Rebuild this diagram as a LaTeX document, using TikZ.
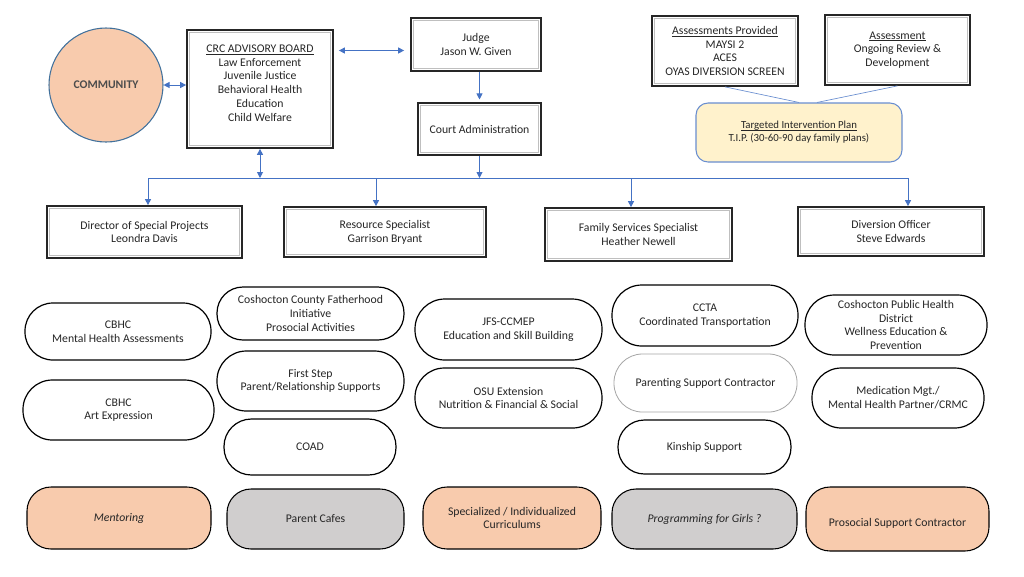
\documentclass[tikz,border=0pt]{standalone}
\usepackage{fontspec}
\setmainfont{Carlito}
\usetikzlibrary{arrows.meta,calc}
\definecolor{peach}{HTML}{F8CBAD}
\definecolor{lgray}{HTML}{D0CECE}
\definecolor{tipfill}{HTML}{FFF2CC}
\definecolor{arrblue}{HTML}{4472C4}
\definecolor{commedge}{HTML}{41719C}
\definecolor{txt}{HTML}{262626}
\newcommand\myfs{\fontsize{8.8}{10.3}\selectfont}
\newcommand\mysmall{\fontsize{8.1}{9.8}\selectfont}
\newcommand\myul[1]{\setbox0\hbox{#1}\rlap{\rule[-1.3pt]{\wd0}{0.45pt}}\box0}
\newcommand\bx[7]{\node[#6, minimum width={(#4-#2)*0.75pt}, minimum height={(#5-#3)*0.75pt}] (#1) at ({(#2+#4)/2},{(#3+#5)/2}) {#7};}
\newcommand\fbx[6]{\bx{#1}{#2}{#3}{#4}{#5}{frame}{#6}\draw[innerframe] ([shift={(3,3)}]#1.north west) rectangle ([shift={(-3,-3)}]#1.south east);}
\newcommand\pl[7][]{\bx{#2}{#3}{#4}{#5}{#6}{pill,rounded corners={(#6-#4)*0.49*0.75pt},#1}{#7}}
\tikzset{
  frame/.style={draw=black!85, line width=1.3pt, fill=white, align=center, font=\myfs, text=txt, inner sep=0pt},
  innerframe/.style={draw=gray!50, line width=0.9pt},
  pill/.style={draw=black, line width=0.9pt, fill=white, align=center, font=\myfs, text=txt, inner sep=0pt},
  rbox/.style={draw=black, line width=0.8pt, align=center, font=\myfs, text=txt, inner sep=0pt, rounded corners=18pt},
  tipbox/.style={draw=arrblue!80, line width=0.8pt, fill=tipfill, align=center, font=\mysmall, text=txt, inner sep=0pt, rounded corners=9pt},
  conn/.style={draw=arrblue, line width=0.7pt},
  arr/.style={conn, -{Triangle[length=4.5pt,width=4.5pt]}},
  darr/.style={conn, {Triangle[length=4.5pt,width=4.5pt]}-{Triangle[length=4.5pt,width=4.5pt]}},
  tline/.style={draw=arrblue!80, line width=0.5pt}
}
\begin{document}
\begin{tikzpicture}[x=0.75pt,y=-0.75pt]
\fill[white] (0,0) rectangle (1024,576);
\useasboundingbox (0,0) rectangle (1024,576);

\node[circle, draw=commedge, line width=0.8pt, fill=peach, minimum size={114*0.75pt}, font=\myfs\bfseries, text=black!70] (comm) at (106,85) {COMMUNITY};

\fbx{crc}{187}{30}{333}{148}{\myul{CRC ADVISORY BOARD}\\Law Enforcement\\Juvenile Justice\\Behavioral Health\\Education\\Child Welfare\rule[-9pt]{0pt}{0pt}}
\fbx{judge}{411}{18}{541}{71}{Judge\\Jason W. Given}
\fbx{court}{418}{103}{541}{155}{Court Administration}
\fbx{ap}{652}{16}{798}{86}{\myul{Assessments Provided}\\MAYSI 2\\ACES\\OYAS DIVERSION SCREEN}
\fbx{as}{825}{15}{970}{85}{\myul{Assessment}\\Ongoing Review \&\\Development}
\bx{tip}{696}{103}{902}{162}{tipbox}{\myul{Targeted Intervention Plan}\\T.I.P. (30-60-90 day family plans)}

\fbx{dir}{47}{206}{242}{258}{Director of Special Projects\\Leondra Davis}
\fbx{res}{284}{207}{486}{257}{Resource Specialist\\Garrison Bryant}
\fbx{fam}{545}{208}{732}{261}{Family Services Specialist\\Heather Newell}
\fbx{div}{798}{207}{984}{256}{Diversion Officer\\Steve Edwards}

\pl{cbhc1}{25}{303}{211}{360}{CBHC\\Mental Health Assessments}
\pl{cbhc2}{23}{380}{214}{440}{CBHC\\Art Expression}
\pl{fath}{217}{287}{404}{340}{Coshocton County Fatherhood\\Initiative\\Prosocial Activities}
\pl{first}{217}{351}{404}{411}{First Step\\Parent/Relationship Supports}
\pl{coad}{224}{419}{396}{475}{COAD}
\pl{jfs}{415}{299}{602}{360}{JFS-CCMEP\\Education and Skill Building}
\pl{osu}{415}{368}{602}{428}{OSU Extension\\Nutrition \& Financial \& Social}
\pl{ccta}{612}{285}{798}{346}{CCTA\\Coordinated Transportation}
\pl[draw=gray!70, line width=0.6pt]{psc}{614}{354}{797}{412}{Parenting Support Contractor}
\pl{kin}{618}{420}{791}{474}{Kinship Support}
\pl{cph}{805}{295}{987}{355}{Coshocton Public Health\\District\\Wellness Education \&\\Prevention}
\pl{med}{812}{368}{984}{428}{Medication Mgt./\\Mental Health Partner/CRMC}

\bx{ment}{27}{487}{211}{549}{rbox, fill=peach, font=\myfs\itshape}{Mentoring}
\bx{cafe}{227}{489}{404}{549}{rbox, fill=lgray}{Parent Cafes}
\bx{spec}{423}{487}{601}{549}{rbox, fill=peach}{Specialized / Individualized\\Curriculums}
\bx{girls}{612}{489}{797}{549}{rbox, fill=lgray, font=\myfs\itshape}{Programming for Girls ?}
\bx{pros}{806}{487}{989}{551}{rbox, fill=peach}{\rule{0pt}{13pt}Prosocial Support Contractor}

% connectors
\coordinate (busL) at (148,178);
\coordinate (busR) at (908,178);
\draw[darr] (comm.east) -- (comm.east -| crc.west);
\draw[darr] ($(crc.east |- judge.west)+(5,6)$) -- ($(judge.west)+(-6,6)$);
\draw[arr, shorten >=2pt] (judge.south -| court.north) -- (court.north);
\draw[arr] (court.south) -- (court.south |- busL);
\draw[darr] (crc.south) -- (crc.south |- busL);
\draw[conn] (busL) -- (busR);
\draw[arr] (busL) -- (busL |- dir.north);
\draw[arr] ($(res.north |- busL)+(-9,0)$) -- ($(res.north)+(-9,0)$);
\draw[arr] ($(fam.north |- busL)+(-7.5,0)$) -- ($(fam.north)+(-7.5,0)$);
\draw[arr] (busR) -- (busR |- div.north);
\draw[tline] (ap.south) -- (tip.north);
\draw[tline] (as.south) -- ($(tip.north)+(18,0)$);
\end{tikzpicture}
\end{document}
